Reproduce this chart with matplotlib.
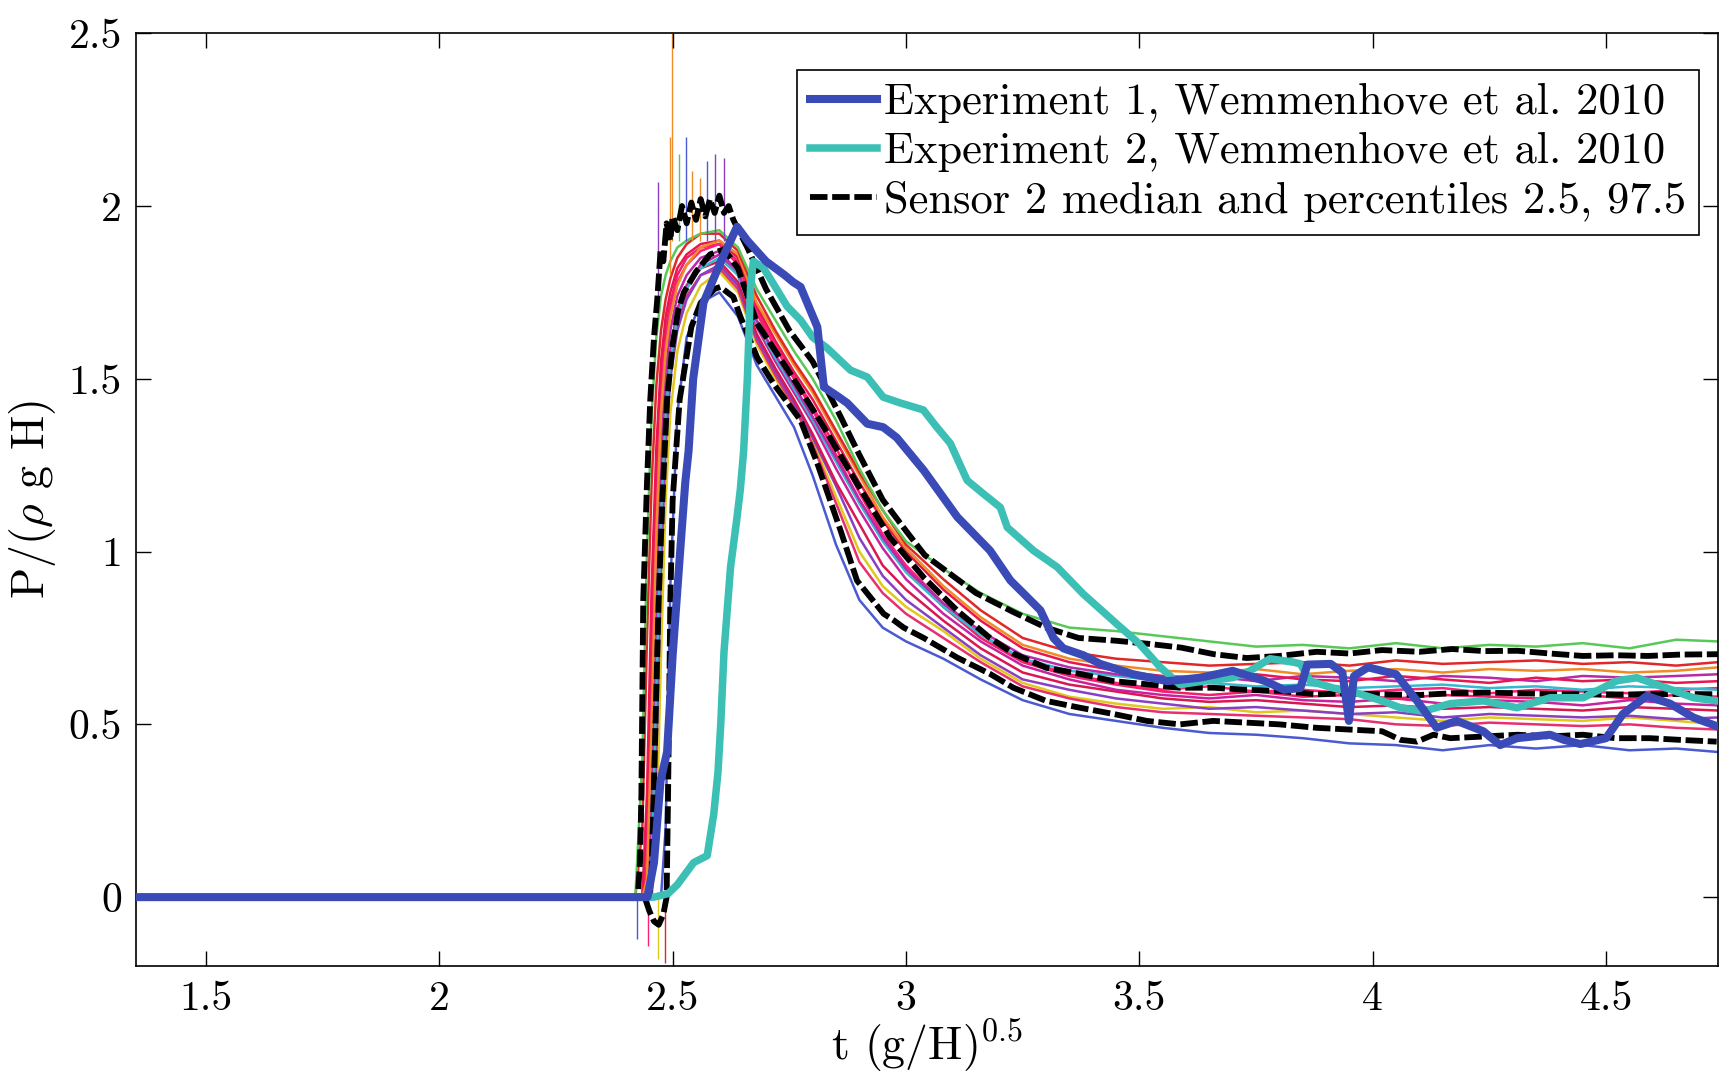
import matplotlib
matplotlib.use("Agg")
import matplotlib.pyplot as plt

plt.rcParams["font.family"] = "serif"
plt.rcParams["font.serif"] = ["cmr10"]
plt.rcParams["mathtext.fontset"] = "cm"
plt.rcParams["axes.formatter.use_mathtext"] = True

# --- DATA ---

# simulation ensemble, sensor 2: common time grid
x_ens = [1.35, 2.42, 2.435, 2.445, 2.455, 2.465, 2.475, 2.485, 2.495, 2.51,
         2.53, 2.56, 2.60, 2.64, 2.68, 2.72, 2.76, 2.80, 2.85, 2.90,
         2.95, 3.00, 3.08, 3.16, 3.25, 3.35, 3.45, 3.55, 3.65, 3.75,
         3.85, 3.95, 4.05, 4.15, 4.25, 4.35, 4.45, 4.55, 4.65, 4.74]

run_green = [0, 0, 0.4, 1.0, 1.4, 1.62, 1.74, 1.8, 1.84, 1.88,
             1.9, 1.92, 1.93, 1.88, 1.76, 1.67, 1.58, 1.5, 1.38, 1.24,
             1.12, 1.03, 0.95, 0.88, 0.82, 0.78, 0.77, 0.755, 0.74, 0.725,
             0.73, 0.72, 0.735, 0.72, 0.73, 0.725, 0.735, 0.72, 0.745, 0.74]
run_blue = [0, 0, 0, 0, 0, 0, 0, 0.2, 0.9, 1.4,
            1.62, 1.72, 1.75, 1.68, 1.54, 1.45, 1.36, 1.22, 1.02, 0.86,
            0.78, 0.74, 0.69, 0.63, 0.57, 0.53, 0.51, 0.49, 0.475, 0.47,
            0.46, 0.445, 0.44, 0.425, 0.44, 0.43, 0.44, 0.425, 0.43, 0.42]
run_crimson = [0, 0, 0, 0.3, 0.9, 1.3, 1.55, 1.68, 1.75, 1.82,
               1.86, 1.89, 1.9, 1.85, 1.71, 1.61, 1.52, 1.44, 1.32, 1.2,
               1.09, 1.0, 0.89, 0.8, 0.72, 0.68, 0.655, 0.64, 0.635, 0.645,
               0.63, 0.625, 0.64, 0.63, 0.62, 0.635, 0.625, 0.63, 0.62, 0.625]
run_magenta = [0, 0, 0, 0, 0.2, 0.8, 1.2, 1.45, 1.58, 1.7,
               1.77, 1.83, 1.86, 1.8, 1.65, 1.55, 1.46, 1.37, 1.24, 1.12,
               1.01, 0.92, 0.82, 0.74, 0.67, 0.63, 0.6, 0.585, 0.575, 0.585,
               0.57, 0.565, 0.575, 0.56, 0.57, 0.565, 0.555, 0.57, 0.56, 0.555]
run_pink = [0, 0, 0, 0.1, 0.6, 1.1, 1.42, 1.6, 1.7, 1.78,
            1.83, 1.87, 1.89, 1.84, 1.7, 1.6, 1.51, 1.42, 1.3, 1.17,
            1.05, 0.96, 0.85, 0.76, 0.685, 0.645, 0.62, 0.6, 0.61, 0.595,
            0.6, 0.59, 0.6, 0.605, 0.59, 0.6, 0.595, 0.59, 0.6, 0.605]
run_purple = [0, 0, 0, 0, 0, 0.4, 0.95, 1.3, 1.5, 1.64,
              1.73, 1.8, 1.83, 1.77, 1.62, 1.52, 1.43, 1.33, 1.19, 1.04,
              0.93, 0.86, 0.78, 0.7, 0.63, 0.6, 0.575, 0.56, 0.545, 0.55,
              0.54, 0.53, 0.535, 0.52, 0.53, 0.525, 0.52, 0.525, 0.515, 0.52]
run_orange = [0, 0, 0, 0.05, 0.5, 1.05, 1.4, 1.58, 1.68, 1.77,
              1.83, 1.88, 1.9, 1.86, 1.72, 1.63, 1.54, 1.46, 1.34, 1.22,
              1.1, 1.01, 0.9, 0.81, 0.73, 0.69, 0.67, 0.655, 0.65, 0.66,
              0.645, 0.655, 0.66, 0.65, 0.66, 0.655, 0.66, 0.65, 0.655, 0.665]
run_cyan = [0, 0, 0, 0, 0.1, 0.6, 1.1, 1.4, 1.55, 1.68,
            1.76, 1.82, 1.85, 1.8, 1.66, 1.56, 1.47, 1.38, 1.26, 1.14,
            1.03, 0.94, 0.84, 0.76, 0.69, 0.655, 0.64, 0.625, 0.62, 0.61,
            0.615, 0.605, 0.61, 0.615, 0.605, 0.61, 0.6, 0.61, 0.605, 0.6]
run_red = [0, 0, 0.2, 0.75, 1.2, 1.48, 1.64, 1.73, 1.79, 1.85,
           1.89, 1.92, 1.92, 1.87, 1.74, 1.64, 1.55, 1.47, 1.35, 1.23,
           1.12, 1.02, 0.92, 0.83, 0.75, 0.71, 0.69, 0.68, 0.67, 0.675,
           0.68, 0.67, 0.685, 0.675, 0.68, 0.685, 0.675, 0.68, 0.67, 0.68]
run_yellow = [0, 0, 0, 0, 0, 0.15, 0.7, 1.15, 1.4, 1.58,
              1.69, 1.77, 1.81, 1.75, 1.6, 1.5, 1.42, 1.32, 1.16, 1.0,
              0.9, 0.84, 0.77, 0.69, 0.62, 0.58, 0.56, 0.545, 0.55, 0.535,
              0.54, 0.53, 0.52, 0.51, 0.52, 0.515, 0.51, 0.52, 0.51, 0.5]
run_hotpink = [0, 0, 0, 0.2, 0.75, 1.2, 1.5, 1.64, 1.72, 1.8,
               1.85, 1.88, 1.89, 1.83, 1.69, 1.59, 1.5, 1.41, 1.28, 1.15,
               1.04, 0.95, 0.84, 0.75, 0.68, 0.64, 0.615, 0.595, 0.585, 0.595,
               0.58, 0.585, 0.575, 0.585, 0.58, 0.575, 0.585, 0.575, 0.585, 0.58]
run_violet = [0, 0, 0, 0, 0.35, 0.95, 1.3, 1.52, 1.64, 1.74,
              1.8, 1.85, 1.87, 1.81, 1.67, 1.57, 1.48, 1.39, 1.27, 1.15,
              1.04, 0.95, 0.85, 0.77, 0.7, 0.665, 0.645, 0.63, 0.64, 0.625,
              0.64, 0.635, 0.625, 0.64, 0.635, 0.625, 0.64, 0.635, 0.64, 0.645]
run_rose = [0, 0, 0, 0, 0.05, 0.5, 1.0, 1.35, 1.52, 1.66,
            1.74, 1.8, 1.82, 1.76, 1.61, 1.51, 1.42, 1.31, 1.14, 0.97,
            0.88, 0.82, 0.75, 0.68, 0.61, 0.575, 0.55, 0.535, 0.53, 0.525,
            0.52, 0.515, 0.50, 0.495, 0.505, 0.50, 0.495, 0.50, 0.49, 0.485]
run_cherry = [0, 0, 0, 0, 0.1, 0.65, 1.1, 1.42, 1.56, 1.7,
              1.77, 1.82, 1.84, 1.78, 1.63, 1.53, 1.44, 1.34, 1.2, 1.08,
              0.96, 0.89, 0.8, 0.72, 0.65, 0.615, 0.595, 0.575, 0.565, 0.57,
              0.56, 0.55, 0.555, 0.545, 0.55, 0.545, 0.54, 0.55, 0.545, 0.54]

runs = [run_blue, run_yellow, run_rose, run_purple, run_cherry, run_magenta,
        run_hotpink, run_pink, run_cyan, run_violet, run_crimson, run_orange,
        run_red, run_green]
run_colors = ["#4a5ad0", "#e0c81c", "#e8306e", "#8a3fc0", "#d81850", "#c8229e",
              "#f0206a", "#ff1f7a", "#36b8d0", "#b82aa8", "#e8174f", "#f08c28",
              "#e02828", "#58c858"]

# short spikes of single runs around impact
spike_x = [2.424, 2.448, 2.469, 2.484, 2.469, 2.495, 2.499, 2.514, 2.529,
           2.542, 2.559, 2.574, 2.591, 2.609]
spike_lo = [-0.12, -0.14, -0.18, -0.19, 1.7, 1.8, 1.9, 1.9, 1.9,
            1.9, 1.9, 1.9, 1.9, 1.9]
spike_hi = [0.0, 0.0, 0.0, 0.0, 2.07, 2.2, 2.5, 2.15, 2.2,
            2.1, 2.08, 2.13, 2.15, 2.14]
spike_colors = ["#4a5ad0", "#ff1f7a", "#e0c81c", "#e02828", "#8a3fc0", "#f08c28",
                "#f08c28", "#58c858", "#4a5ad0", "#f08c28", "#f08c28", "#4a5ad0",
                "#8a3fc0", "#8a3fc0"]

# percentile 97.5
p97_x = [1.35, 2.425, 2.43, 2.433, 2.437, 2.445, 2.452, 2.46, 2.467, 2.474,
         2.48, 2.487, 2.495, 2.50, 2.51, 2.52, 2.53, 2.54, 2.55, 2.56,
         2.57, 2.58, 2.59, 2.60, 2.61, 2.62, 2.63, 2.66, 2.70, 2.75,
         2.80, 2.86, 2.90, 2.95, 3.00, 3.04, 3.08, 3.15, 3.23, 3.30,
         3.37, 3.45, 3.52, 3.59, 3.66, 3.73, 3.80, 3.88, 3.95, 4.02,
         4.10, 4.17, 4.24, 4.31, 4.38, 4.45, 4.52, 4.59, 4.66, 4.74]
p97_y = [0, 0, 0.1, 0.3, 0.86, 1.2, 1.44, 1.62, 1.73, 1.87,
         1.84, 1.95, 1.9, 1.97, 1.93, 2.0, 1.95, 2.01, 1.96, 2.02,
         1.97, 2.02, 1.98, 2.03, 1.98, 2.0, 1.96, 1.88, 1.76, 1.64,
         1.55, 1.39, 1.28, 1.15, 1.06, 0.99, 0.95, 0.88, 0.825, 0.78,
         0.75, 0.742, 0.733, 0.722, 0.703, 0.692, 0.698, 0.71, 0.705, 0.715,
         0.71, 0.718, 0.712, 0.713, 0.705, 0.698, 0.70, 0.698, 0.702, 0.703]

# median
p50_x = [1.35, 2.45, 2.455, 2.459, 2.465, 2.47, 2.478, 2.488, 2.50, 2.512,
         2.524, 2.55, 2.58, 2.61, 2.64, 2.681, 2.752, 2.824, 2.895, 2.966,
         3.038, 3.11, 3.18, 3.23, 3.30, 3.373, 3.445, 3.516, 3.587, 3.658,
         3.73, 3.80, 3.88, 3.95, 4.02, 4.10, 4.17, 4.24, 4.31, 4.38,
         4.45, 4.52, 4.59, 4.66, 4.74]
p50_y = [0, 0, 0.08, 0.28, 0.6, 0.86, 1.15, 1.44, 1.6, 1.70,
         1.75, 1.81, 1.86, 1.875, 1.82, 1.66, 1.515, 1.36, 1.197, 1.04,
         0.925, 0.829, 0.75, 0.705, 0.664, 0.646, 0.625, 0.616, 0.606, 0.606,
         0.60, 0.597, 0.587, 0.59, 0.587, 0.585, 0.59, 0.592, 0.59, 0.588,
         0.587, 0.586, 0.587, 0.588, 0.587]

# percentile 2.5
p025_x = [1.35, 2.44, 2.45, 2.46, 2.47, 2.48, 2.487, 2.49, 2.495, 2.50,
          2.515, 2.54, 2.56, 2.59, 2.602, 2.63, 2.645, 2.681, 2.716, 2.774,
          2.81, 2.86, 2.895, 2.952, 2.975, 2.995, 3.038, 3.11, 3.18, 3.23,
          3.30, 3.373, 3.445, 3.516, 3.587, 3.658, 3.73, 3.80, 3.88, 3.95,
          4.02, 4.06, 4.095, 4.13, 4.166, 4.24, 4.31, 4.38, 4.45, 4.52,
          4.594, 4.66, 4.737]
p025_y = [0, 0, -0.04, -0.07, -0.08, -0.05, 0.0, 0.28, 0.86, 1.15,
          1.44, 1.65, 1.72, 1.76, 1.766, 1.737, 1.68, 1.562, 1.486, 1.38,
          1.255, 1.06, 0.916, 0.82, 0.80, 0.78, 0.75, 0.693, 0.646, 0.606,
          0.568, 0.548, 0.53, 0.51, 0.50, 0.51, 0.505, 0.50, 0.49, 0.485,
          0.48, 0.455, 0.45, 0.47, 0.46, 0.465, 0.47, 0.465, 0.47, 0.46,
          0.46, 0.455, 0.45]

# Experiment 1, Wemmenhove et al. 2010
exp1_x = [1.35, 2.44, 2.446, 2.46, 2.474, 2.488, 2.50, 2.516, 2.527, 2.534,
          2.544, 2.566, 2.602, 2.638, 2.66, 2.70, 2.74, 2.758, 2.774, 2.81,
          2.824, 2.853, 2.874, 2.917, 2.951, 2.98, 3.038, 3.11, 3.18, 3.224,
          3.251, 3.288, 3.316, 3.337, 3.38, 3.416, 3.487, 3.56, 3.63, 3.70,
          3.77, 3.81, 3.845, 3.86, 3.91, 3.935, 3.949, 3.96, 3.99, 4.05,
          4.095, 4.137, 4.18, 4.237, 4.273, 4.309, 4.38, 4.41, 4.445, 4.50,
          4.536, 4.587, 4.637, 4.687, 4.737]
exp1_y = [0, 0, 0.0, 0.1, 0.336, 0.42, 0.7, 1.0, 1.2, 1.29,
          1.5, 1.72, 1.836, 1.94, 1.90, 1.84, 1.80, 1.78, 1.766, 1.65,
          1.476, 1.45, 1.43, 1.37, 1.36, 1.33, 1.235, 1.10, 1.003, 0.916,
          0.88, 0.83, 0.75, 0.72, 0.70, 0.675, 0.645, 0.625, 0.635, 0.655,
          0.625, 0.60, 0.605, 0.673, 0.675, 0.65, 0.51, 0.64, 0.665, 0.645,
          0.568, 0.49, 0.51, 0.48, 0.44, 0.46, 0.47, 0.455, 0.443, 0.46,
          0.53, 0.582, 0.56, 0.52, 0.495]

# Experiment 2, Wemmenhove et al. 2010
exp2_x = [1.35, 2.46, 2.49, 2.51, 2.545, 2.574, 2.588, 2.597, 2.603, 2.61,
          2.624, 2.638, 2.645, 2.652, 2.66, 2.667, 2.673, 2.695, 2.724, 2.745,
          2.774, 2.80, 2.83, 2.881, 2.917, 2.951, 2.988, 3.037, 3.066, 3.095,
          3.131, 3.166, 3.202, 3.217, 3.273, 3.324, 3.38, 3.452, 3.50, 3.545,
          3.587, 3.637, 3.70, 3.737, 3.78, 3.83, 3.845, 3.866, 3.916, 3.952,
          4.02, 4.059, 4.109, 4.166, 4.237, 4.309, 4.38, 4.451, 4.523, 4.566,
          4.63, 4.687, 4.737]
exp2_y = [0, 0, 0.01, 0.036, 0.10, 0.12, 0.24, 0.36, 0.5, 0.71,
          0.955, 1.10, 1.18, 1.29, 1.50, 1.77, 1.84, 1.82, 1.757, 1.71,
          1.67, 1.62, 1.59, 1.525, 1.505, 1.447, 1.43, 1.41, 1.36, 1.313,
          1.206, 1.167, 1.128, 1.07, 1.003, 0.955, 0.877, 0.79, 0.733, 0.665,
          0.615, 0.625, 0.635, 0.655, 0.69, 0.68, 0.675, 0.625, 0.605, 0.597,
          0.568, 0.548, 0.538, 0.56, 0.568, 0.548, 0.577, 0.577, 0.626, 0.635,
          0.605, 0.577, 0.568]

x_ticks = [1.5, 2, 2.5, 3, 3.5, 4, 4.5]
x_ticklabels = ["1.5", "2", "2.5", "3", "3.5", "4", "4.5"]
y_ticks = [0, 0.5, 1, 1.5, 2, 2.5]
y_ticklabels = ["0", "0.5", "1", "1.5", "2", "2.5"]

# --- PLOT ---
fig = plt.figure(figsize=(17.21, 10.76), dpi=100)
ax = fig.add_axes([0.079, 0.102, 0.9193, 0.8671])

for run, col in zip(runs, run_colors):
    ax.plot(x_ens, run, color=col, linewidth=1.8, zorder=1)
ax.vlines(spike_x, spike_lo, spike_hi, colors=spike_colors, linewidth=1.0, zorder=1)

dash = (0, (3, 0.8))
ax.plot(p97_x, p97_y, color="black", linewidth=4.2, linestyle=dash, zorder=2,
        label="Sensor 2 median and percentiles 2.5, 97.5")
ax.plot(p50_x, p50_y, color="black", linewidth=4.2, linestyle=dash, zorder=2)
ax.plot(p025_x, p025_y, color="black", linewidth=4.2, linestyle=dash, zorder=2)

ax.plot(exp2_x, exp2_y, color="#3cbfb4", linewidth=5.4, zorder=3,
        label="Experiment 2, Wemmenhove et al. 2010")
ax.plot(exp1_x, exp1_y, color="#3a4bb8", linewidth=5.8, zorder=4,
        label="Experiment 1, Wemmenhove et al. 2010")

ax.set_xlim(1.35, 4.74)
ax.set_ylim(-0.2, 2.5)
ax.set_xticks(x_ticks)
ax.set_xticklabels(x_ticklabels)
ax.set_yticks(y_ticks)
ax.set_yticklabels(y_ticklabels)
ax.tick_params(direction="in", length=11, width=1, top=True, right=True,
               labelsize=30, pad=10)
for sp in ax.spines.values():
    sp.set_linewidth(1.2)

ax.set_xlabel(r"t $(\mathrm{g/H})^{0.5}$", fontsize=33, labelpad=0)
ax.set_ylabel(r"P/($\rho$ g H)", fontsize=33, labelpad=8)

handles, labels = ax.get_legend_handles_labels()
order = [2, 1, 0]
leg = ax.legend([handles[i] for i in order], [labels[i] for i in order],
                loc="upper right", bbox_to_anchor=(0.988, 0.961), fontsize=32,
                frameon=True, fancybox=False, edgecolor="black", framealpha=1,
                handlelength=1.5, handletextpad=0.15, borderpad=0.3,
                labelspacing=0.2, borderaxespad=0)
leg.get_frame().set_linewidth(1.2)

fig.savefig("out.png", dpi=100)
